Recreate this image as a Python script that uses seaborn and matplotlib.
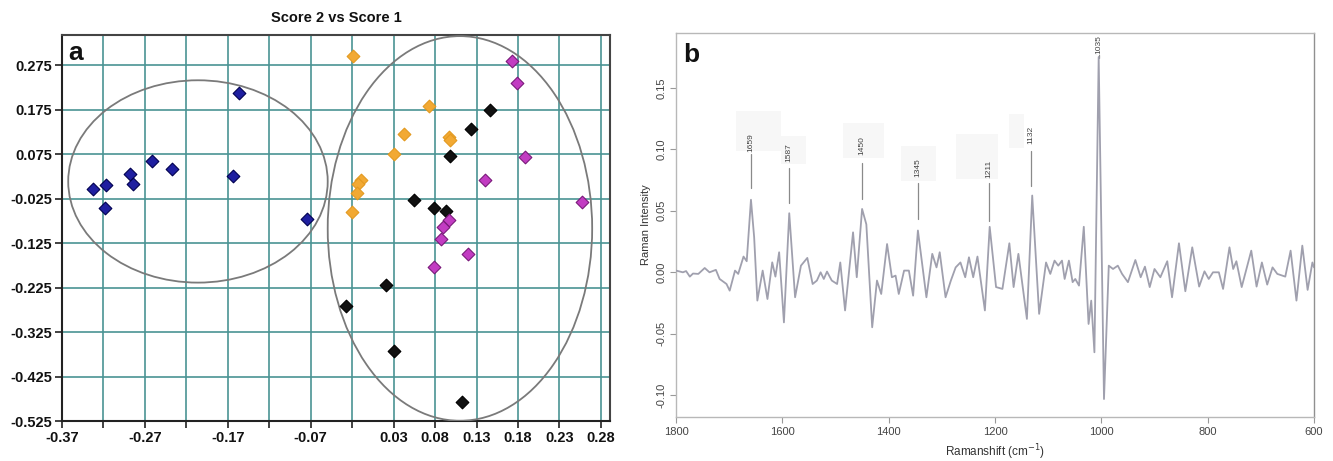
import numpy as np
import pandas as pd
import matplotlib
matplotlib.use("Agg")
import matplotlib.pyplot as plt
import seaborn as sns
from matplotlib.patches import Ellipse, Rectangle

# ---------------- data: panel a (PCA scores) ----------------
blue_s1 = [-0.333, -0.317, -0.318, -0.288, -0.284, -0.262, -0.237, -0.157, -0.164, -0.074]
blue_s2 = [-0.004, 0.005, -0.045, 0.031, 0.008, 0.059, 0.041, 0.212, 0.027, -0.070]
orange_s1 = [-0.019, 0.073, 0.043, 0.097, 0.098, 0.031, -0.009, -0.013, -0.014, -0.020]
orange_s2 = [0.295, 0.184, 0.121, 0.114, 0.108, 0.076, 0.016, 0.008, -0.013, -0.056]
black_s1 = [0.146, 0.123, 0.098, 0.055, 0.079, 0.093, 0.021, -0.028, 0.030, 0.112]
black_s2 = [0.174, 0.132, 0.072, -0.027, -0.045, -0.053, -0.220, -0.266, -0.367, -0.483]
magenta_s1 = [0.173, 0.179, 0.189, 0.140, 0.257, 0.097, 0.090, 0.087, 0.079, 0.120]
magenta_s2 = [0.284, 0.236, 0.069, 0.018, -0.033, -0.074, -0.089, -0.115, -0.178, -0.149]

a_xticks = [-0.37, -0.32, -0.27, -0.22, -0.17, -0.12, -0.07, -0.02, 0.03, 0.08, 0.13, 0.18, 0.23, 0.28]
a_xticklabels = ["-0.37", "", "-0.27", "", "-0.17", "", "-0.07", "", "0.03", "0.08", "0.13", "0.18", "0.23", "0.28"]
a_yticks = [0.275, 0.175, 0.075, -0.025, -0.125, -0.225, -0.325, -0.425, -0.525]
a_yticklabels = ["0.275", "0.175", "0.075", "-0.025", "-0.125", "-0.225", "-0.325", "-0.425", "-0.525"]

# ---------------- data: panel b (Raman spectrum) ----------------
wavenumber = [1800, 1787, 1781, 1774, 1768, 1758, 1746, 1737, 1725, 1718, 1705, 1699, 1689, 1683,
              1673, 1667, 1659, 1653, 1647, 1637, 1628, 1619, 1613, 1606, 1597, 1587, 1576, 1565,
              1553, 1543, 1535, 1528, 1522, 1516, 1507, 1497, 1491, 1482, 1467, 1460, 1450, 1442,
              1431, 1422, 1414, 1403, 1394, 1387, 1381, 1371, 1362, 1354, 1345, 1329, 1318, 1310,
              1304, 1293, 1283, 1274, 1265, 1256, 1249, 1241, 1233, 1219, 1210, 1198, 1186, 1173,
              1165, 1156, 1140, 1130, 1117, 1104, 1096, 1088, 1081, 1074, 1069, 1061, 1054, 1049,
              1042, 1033, 1024, 1019, 1013, 1005, 995, 986, 978, 969, 961, 950, 936, 926, 918, 909,
              900, 889, 876, 867, 854, 842, 829, 816, 806, 798, 790, 779, 771, 759, 752, 746, 736,
              718, 708, 698, 688, 678, 669, 654, 644, 633, 622, 612, 603, 600]
intensity = [0.0014, 0.000, 0.001, -0.0035, -0.001, -0.0013, 0.0035, 0.000, 0.002, -0.0054, -0.0095,
             -0.0149, 0.0014, -0.0013, 0.0128, 0.009, 0.059, 0.0285, -0.023, 0.0014, -0.0217, 0.0081,
             -0.0035, 0.0163, -0.0407, 0.048, -0.0203, 0.0054, 0.0117, -0.0095, -0.0067, 0.000,
             -0.0054, 0.0006, -0.0067, -0.0095, 0.008, -0.031, 0.0325, -0.004, 0.0515, 0.039,
             -0.0447, -0.0067, -0.0176, 0.023, -0.004, -0.0027, -0.0176, 0.0014, 0.0014, -0.019,
             0.034, -0.0203, 0.015, 0.004, 0.0163, -0.0203, -0.0067, 0.004, 0.008, -0.004, 0.0122,
             -0.004, 0.0128, -0.031, 0.037, -0.012, -0.0135, 0.0236, -0.012, 0.015, -0.0379, 0.0624,
             -0.0338, 0.008, -0.0013, 0.0095, 0.0054, 0.0095, -0.0054, 0.0095, -0.008, -0.0054,
             -0.0108, 0.037, -0.042, -0.023, -0.065, 0.175, -0.103, 0.0054, 0.0027, 0.0054, -0.0013,
             -0.008, 0.010, -0.004, 0.0046, -0.012, 0.0027, -0.004, 0.009, -0.0203, 0.0236, -0.0154,
             0.0203, -0.0116, 0.0008, -0.0054, 0.000, 0.000, -0.0135, 0.0203, 0.0027, 0.009, -0.012,
             0.0176, -0.0116, 0.008, -0.010, 0.004, -0.0013, -0.0035, 0.0176, -0.023, 0.0217, -0.0143,
             0.008, 0.004]
peak_labels = ["1659", "1587", "1450", "1345", "1211", "1132", "1035"]
peak_positions = [1659, 1587, 1450, 1345, 1211, 1132, 1005]

b_xticks = [1800, 1600, 1400, 1200, 1000, 800, 600]
b_yticks = [0.15, 0.10, 0.05, 0.00, -0.05, -0.10]

# ---------------- style ----------------
sns.set_theme(style="white")
plt.rcParams["font.family"] = ["Liberation Sans", "DejaVu Sans"]

W, H = 1333, 461
fig = plt.figure(figsize=(W / 100, H / 100), dpi=100)
fig.patch.set_facecolor("white")

# ======== Panel a ========
axa = fig.add_axes([62 / W, 1 - 421 / H, (610 - 62) / W, (421 - 35) / H])
groups = [
    (blue_s1, blue_s2, "#1f1fa0", "#000050"),
    (orange_s1, orange_s2, "#f2a933", "#e39a20"),
    (black_s1, black_s2, "#111111", "#000000"),
    (magenta_s1, magenta_s2, "#c23cc2", "#7a1a7a"),
]
for gx, gy, fc, ec in groups:
    df = pd.DataFrame({"Score 1": gx, "Score 2": gy})
    sns.scatterplot(data=df, x="Score 1", y="Score 2", marker="D", s=42, color=fc,
                    edgecolor=ec, linewidth=0.8, ax=axa, zorder=4, legend=False)

axa.add_patch(Ellipse((-0.206, 0.0137), 0.313, 0.455, fill=False, edgecolor="#7a7a7a",
                      linewidth=1.3, zorder=3))
axa.add_patch(Ellipse((0.110, -0.092), 0.319, 0.865, fill=False, edgecolor="#7a7a7a",
                      linewidth=1.3, zorder=3))

axa.set_xlim(-0.37, 0.291)
axa.set_ylim(-0.525, 0.343)
axa.set_xticks(a_xticks)
axa.set_xticklabels(a_xticklabels)
axa.set_yticks(a_yticks)
axa.set_yticklabels(a_yticklabels)
axa.grid(True, color="#4a9494", linewidth=1.2, zorder=1)
axa.set_axisbelow(True)
axa.tick_params(axis="both", which="both", direction="out", length=5, width=1.3,
                color="#333333", labelsize=10.5, labelcolor="#111111", pad=2,
                bottom=True, left=True)
for lab in axa.get_xticklabels() + axa.get_yticklabels():
    lab.set_fontweight("bold")
for sp in axa.spines.values():
    sp.set_visible(True)
    sp.set_color("#444444")
    sp.set_linewidth(1.5)
axa.spines["left"].set_color("#222222")
axa.spines["bottom"].set_color("#222222")
axa.set_xlabel("")
axa.set_ylabel("")
axa.set_title("Score 2 vs Score 1", fontsize=10.5, fontweight="bold", pad=9, color="#111111")
axa.text(0.012, 0.985, "a", transform=axa.transAxes, fontsize=19, fontweight="bold",
         va="top", ha="left", color="#111111", zorder=6)

# ======== Panel b ========
axb = fig.add_axes([676 / W, 1 - 417 / H, (1314 - 676) / W, (417 - 33) / H])
spec = pd.DataFrame({"wn": wavenumber, "I": intensity})
sns.lineplot(data=spec, x="wn", y="I", sort=False, estimator=None, color="#a0a0ae",
             linewidth=1.3, ax=axb, zorder=3)
axb.set_xlim(1800, 600)
axb.set_ylim(-0.1176, 0.1945)
axb.set_xticks(b_xticks)
axb.set_xticklabels([str(v) for v in b_xticks])
axb.set_yticks(b_yticks)
axb.set_yticklabels([f"{v:.2f}" for v in b_yticks], rotation=90, va="center")
axb.tick_params(axis="both", direction="out", length=4, width=0.8, color="#999999",
                labelsize=8, labelcolor="#444444", left=True, bottom=True, pad=3)
for sp in axb.spines.values():
    sp.set_visible(True)
    sp.set_color("#b8b8b8")
    sp.set_linewidth(1.0)
axb.spines["right"].set_color("#909090")
axb.set_xlabel("Ramanshift (cm$^{-1}$)", fontsize=8.5, color="#333333", labelpad=4)
axb.set_ylabel("Raman Intensity", fontsize=8, color="#333333", labelpad=4)
axb.text(0.012, 0.975, "b", transform=axb.transAxes, fontsize=19, fontweight="bold",
         va="top", ha="left", color="#111111", zorder=6)

# peak annotation layout (label boxes, leader lines, text height)
box_x0 = [1688, 1603, 1485, 1377, 1273, 1173, None]
box_x1 = [1603, 1556, 1409, 1311, 1195, 1145, None]
box_y0 = [0.0989, 0.0884, 0.0933, 0.0746, 0.0762, 0.1014, None]
box_y1 = [0.1315, 0.1111, 0.1217, 0.1030, 0.1128, 0.1290, None]
line_lo = [0.0689, 0.0567, 0.0599, 0.0437, 0.0420, 0.0705, 0.1745]
line_hi = [0.0965, 0.0851, 0.0892, 0.0729, 0.0729, 0.0990, 0.1765]
text_y = [0.1054, 0.0973, 0.1034, 0.0851, 0.0843, 0.1120, 0.1850]
for i, (lab, pos) in enumerate(zip(peak_labels, peak_positions)):
    if box_x0[i] is not None:
        axb.add_patch(Rectangle((box_x1[i], box_y0[i]), box_x0[i] - box_x1[i],
                                box_y1[i] - box_y0[i], facecolor="#f7f7f7",
                                edgecolor="none", zorder=1))
    axb.plot([pos, pos], [line_lo[i], line_hi[i]], color="#8a8a8a", linewidth=0.9, zorder=2)
    axb.text(pos, text_y[i], lab, rotation=90, ha="center", va="center", fontsize=6,
             color="#444444", zorder=4)

fig.savefig("out.png", dpi=100, facecolor="white")
